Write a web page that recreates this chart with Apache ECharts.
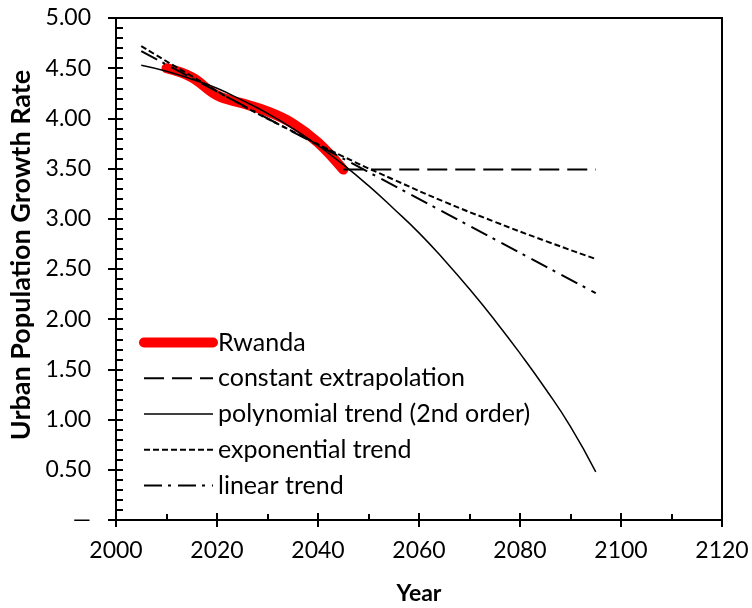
<!DOCTYPE html>
<html>
<head>
<meta charset="utf-8">
<script src="https://cdn.jsdelivr.net/npm/echarts@6/dist/echarts.min.js"></script>
<style>
html, body { margin: 0; padding: 0; background: #fff; }
#chart { width: 752px; height: 608px; }
</style>
</head>
<body>
<div id="chart"></div>
<script>
// data
var rwandaYears = [2010, 2015, 2020, 2025, 2030, 2035, 2040, 2045];
var rwandaRate = [4.50, 4.41, 4.23, 4.15, 4.07, 3.95, 3.76, 3.49];
var constYears = [2045, 2095];
var constRate = [3.49, 3.49];
var polyYears = [2005, 2010, 2015, 2020, 2025, 2030, 2035, 2040, 2045, 2050, 2055, 2060, 2065, 2070, 2075, 2080, 2085, 2090, 2095];
var polyRate = [4.53, 4.47, 4.39, 4.30, 4.18, 4.05, 3.90, 3.73, 3.54, 3.33, 3.10, 2.86, 2.59, 2.30, 1.99, 1.66, 1.31, 0.93, 0.48];
var expYears = [2005, 2015, 2025, 2035, 2045, 2055, 2065, 2075, 2085, 2095];
var expRate = [4.72, 4.42, 4.13, 3.87, 3.62, 3.39, 3.17, 2.97, 2.78, 2.60];
var linYears = [2005, 2095];
var linRate = [4.67, 2.26];
var seriesNames = ['Rwanda', 'constant extrapolation', 'polynomial trend (2nd order)', 'exponential trend', 'linear trend'];

var FONT = 'Lato';

function pairs(xs, ys) {
    return xs.map(function (x, i) { return [x, ys[i]]; });
}

var chart = echarts.init(document.getElementById('chart'));

var axisLine = { show: true, onZero: false, lineStyle: { color: '#000', width: 2 } };

chart.setOption({
    animation: false,
    backgroundColor: '#fff',
    grid: {
        left: 116, right: 30, top: 18, bottom: 88,
        show: true, borderColor: '#000', borderWidth: 2,
        outerBoundsMode: 'none'
    },
    legend: {
        orient: 'vertical',
        left: 134, top: 325,
        itemWidth: 69, itemHeight: 14, itemGap: 10.75,
        lineStyle: { width: 'inherit' },
        // hide the marker that the legend puts in the middle of each line
        itemStyle: { opacity: 0, color: 'transparent', borderWidth: 0 },
        textStyle: { fontFamily: FONT, fontSize: 25, color: '#000', lineHeight: 24 },
        data: seriesNames
    },
    xAxis: [{
        type: 'value', min: 2000, max: 2120, interval: 20,
        name: 'Year', nameLocation: 'middle', nameGap: 62,
        nameTextStyle: { fontFamily: FONT, fontSize: 23, fontWeight: 'bold', color: '#000' },
        axisLine: axisLine,
        axisTick: { show: true, inside: false, length: 7, lineStyle: { color: '#000', width: 2 } },
        axisLabel: {
            margin: 19, fontFamily: FONT, fontSize: 23, color: '#000',
            formatter: function (v) { return String(v); }
        },
        splitLine: { show: false }
    }, {
        type: 'value', min: 2000, max: 2120, interval: 20, position: 'bottom',
        axisLine: axisLine,
        axisTick: { show: true, inside: true, length: 7, lineStyle: { color: '#000', width: 2 } },
        minorTick: { show: true, splitNumber: 2, length: 6, lineStyle: { color: '#000', width: 2 } },
        axisLabel: { show: false },
        splitLine: { show: false }
    }],
    yAxis: [{
        type: 'value', min: 0, max: 5, interval: 0.5,
        name: 'Urban Population Growth Rate', nameLocation: 'middle', nameGap: 80,
        nameTextStyle: { fontFamily: FONT, fontSize: 27, fontWeight: 'bold', color: '#000', padding: [0, 0, 0, 28] },
        axisLine: axisLine,
        axisTick: { show: true, inside: false, length: 8, lineStyle: { color: '#000', width: 2 } },
        axisLabel: {
            margin: 25, fontFamily: FONT, fontSize: 23, color: '#000',
            formatter: function (v) { return v === 0 ? '\u2014' : v.toFixed(2); }
        },
        splitLine: { show: false }
    }, {
        type: 'value', min: 0, max: 5, interval: 0.5, position: 'left',
        axisLine: axisLine,
        axisTick: { show: true, inside: true, length: 7, lineStyle: { color: '#000', width: 2 } },
        minorTick: { show: true, splitNumber: 5, length: 7, lineStyle: { color: '#000', width: 2 } },
        axisLabel: { show: false },
        splitLine: { show: false }
    }],
    series: [{
        name: seriesNames[0], type: 'line', symbol: 'none', smooth: 0.4,
        data: pairs(rwandaYears, rwandaRate),
        lineStyle: { color: '#ff0000', width: 10, cap: 'round', join: 'round' },
        itemStyle: { color: '#ff0000' }
    }, {
        name: seriesNames[1], type: 'line', symbol: 'none',
        data: pairs(constYears, constRate),
        lineStyle: { color: '#000', width: 2, type: [20, 8] },
        itemStyle: { color: '#000' }
    }, {
        name: seriesNames[2], type: 'line', symbol: 'none', smooth: true,
        data: pairs(polyYears, polyRate),
        lineStyle: { color: '#000', width: 1.5 },
        itemStyle: { color: '#000' }
    }, {
        name: seriesNames[3], type: 'line', symbol: 'none', smooth: true,
        data: pairs(expYears, expRate),
        lineStyle: { color: '#000', width: 2, type: [6, 3] },
        itemStyle: { color: '#000' }
    }, {
        name: seriesNames[4], type: 'line', symbol: 'none',
        data: pairs(linYears, linRate),
        lineStyle: { color: '#000', width: 2, type: [18, 6, 3, 7] },
        itemStyle: { color: '#000' }
    }]
});
</script>
</body>
</html>
